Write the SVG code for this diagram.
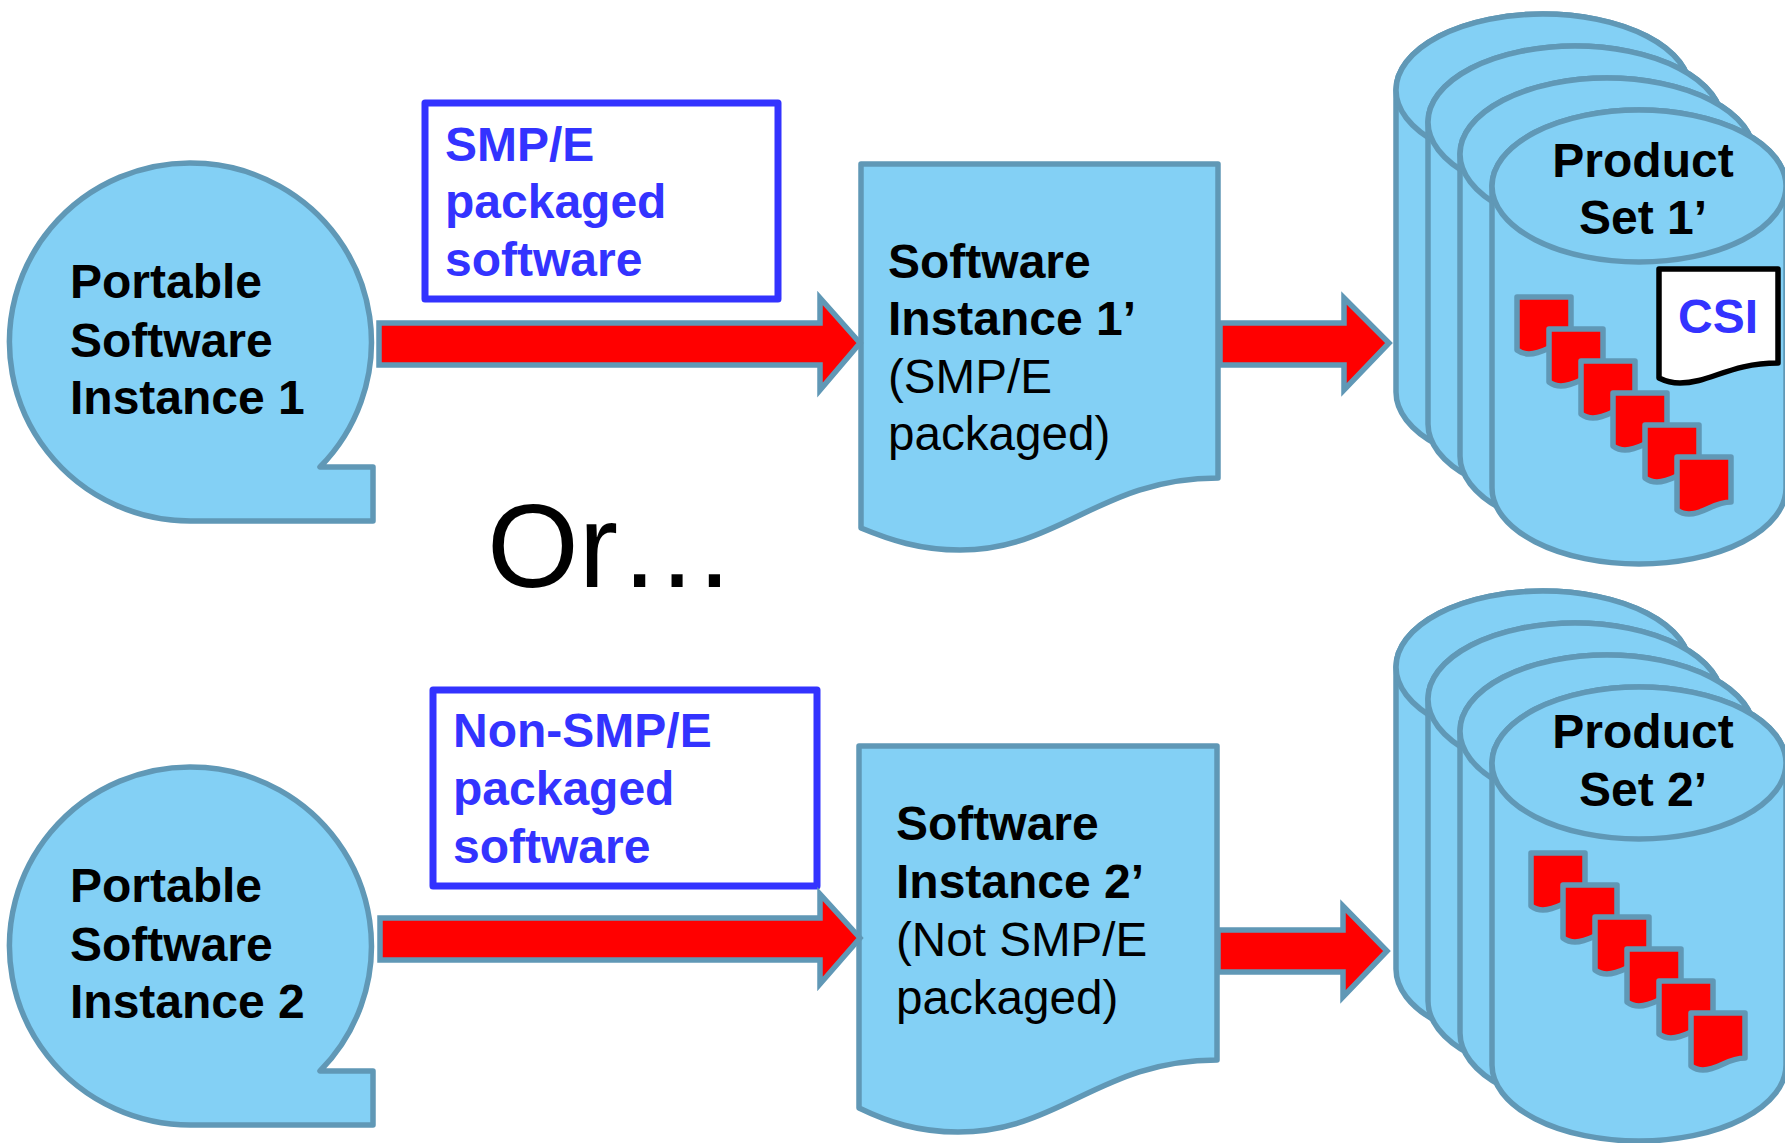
<svg xmlns="http://www.w3.org/2000/svg" xmlns:xlink="http://www.w3.org/1999/xlink" width="1785" height="1143" viewBox="0 0 1785 1143">
<style>
.shape{fill:#83D0F5;stroke:#6098B6;stroke-width:5.5;stroke-linejoin:round}
.arrow{fill:#FF0000;stroke:#6098B6;stroke-width:5.5;stroke-linejoin:miter}
.mini{fill:#FF0000;stroke:#6098B6;stroke-width:5.5;stroke-linejoin:round}
.box{fill:#FFFFFF;stroke:#3333FF;stroke-width:7;stroke-linejoin:round}
text{font-family:"Liberation Sans",Arial,sans-serif;font-size:48px;fill:#000000}
.b{font-weight:700}
.r{font-size:47.6px}
.blue{fill:#3333FF;font-weight:700}
</style>
<defs>
<g id="cyl">
<path class="shape" d="M0,0V302A147,76 0 0 0 294,302V0A147,76 0 0 0 0,0Z"/>
<ellipse class="shape" cx="147" cy="0" rx="147" ry="76"/>
</g>
<path id="mini" class="mini" d="M0,0H54V45C36,45 28,57 12,57C7,57 4,56 0,53Z"/>
<g id="stack">
<use xlink:href="#mini" x="0" y="0"/>
<use xlink:href="#mini" x="32" y="32"/>
<use xlink:href="#mini" x="64" y="64"/>
<use xlink:href="#mini" x="96" y="96"/>
<use xlink:href="#mini" x="128" y="128"/>
<use xlink:href="#mini" x="160" y="160"/>
</g>
</defs>
<g id="instance1">
<path class="shape" d="M373,521H191A181,179 0 1 1 320,467H373Z"/>
<text class="b" x="70" y="298">Portable</text>
<text class="b" x="70" y="357">Software</text>
<text class="b" x="70" y="414">Instance 1</text>
</g>
<g id="instance2">
<path class="shape" d="M373,1125H191A181,179 0 1 1 320,1071H373Z"/>
<text class="b" x="70" y="902">Portable</text>
<text class="b" x="70" y="961">Software</text>
<text class="b" x="70" y="1018">Instance 2</text>
</g>
<g id="label1">
<rect class="box" x="425" y="103" width="353" height="196"/>
<text class="blue" x="445" y="161">SMP/E</text>
<text class="blue" x="445" y="218">packaged</text>
<text class="blue" x="445" y="276">software</text>
</g>
<g id="label2">
<rect class="box" x="433" y="690" width="384" height="196"/>
<text class="blue" x="453" y="747">Non-SMP/E</text>
<text class="blue" x="453" y="805">packaged</text>
<text class="blue" x="453" y="863">software</text>
</g>
<g id="doc1">
<path class="shape" d="M861,164H1218V478C1100,478 1060,550 960,550C920,550 890,540 861,528Z"/>
<text class="b" x="888" y="278">Software</text>
<text class="b" x="888" y="335">Instance 1’</text>
<text class="r" x="888" y="393">(SMP/E</text>
<text class="r" x="888" y="450">packaged)</text>
</g>
<g id="doc2">
<path class="shape" d="M859,746H1217V1060C1100,1060 1060,1132 958,1132C918,1132 888,1122 859,1108Z"/>
<text class="b" x="896" y="840">Software</text>
<text class="b" x="896" y="898">Instance 2’</text>
<text class="r" x="896" y="956">(Not SMP/E</text>
<text class="r" x="896" y="1014">packaged)</text>
</g>
<g id="connectors">
<path class="arrow" d="M379,323H820V298L860,343L820,390V365H379Z"/>
<path class="arrow" d="M1220,323H1344V298L1389,343L1344,390V365H1220Z"/>
<path class="arrow" d="M380,918H820V894L860,938L820,984V960H380Z"/>
<path class="arrow" d="M1218,930H1343V906L1387,951L1343,997V972H1218Z"/>
</g>
<text id="or" x="487" y="587" style="font-size:118px">Or…</text>
<g id="set1">
<use xlink:href="#cyl" x="1396" y="90"/>
<use xlink:href="#cyl" x="1428" y="122"/>
<use xlink:href="#cyl" x="1460" y="154"/>
<use xlink:href="#cyl" x="1492" y="186"/>
<text class="b" x="1643" y="177" text-anchor="middle">Product</text>
<text class="b" x="1643" y="234" text-anchor="middle">Set 1’</text>
<use xlink:href="#stack" x="1517" y="297"/>
<path d="M1659,269H1778V363C1730,363 1710,383 1680,383C1670,383 1665,381 1659,378Z" fill="#FFFFFF" stroke="#000000" stroke-width="5.5" stroke-linejoin="round"/>
<text class="blue" x="1678" y="333">CSI</text>
</g>
<g id="set2">
<use xlink:href="#cyl" x="1396" y="667"/>
<use xlink:href="#cyl" x="1428" y="699"/>
<use xlink:href="#cyl" x="1460" y="731"/>
<use xlink:href="#cyl" x="1492" y="763"/>
<text class="b" x="1643" y="748" text-anchor="middle">Product</text>
<text class="b" x="1643" y="806" text-anchor="middle">Set 2’</text>
<use xlink:href="#stack" x="1531" y="853"/>
</g>
</svg>
